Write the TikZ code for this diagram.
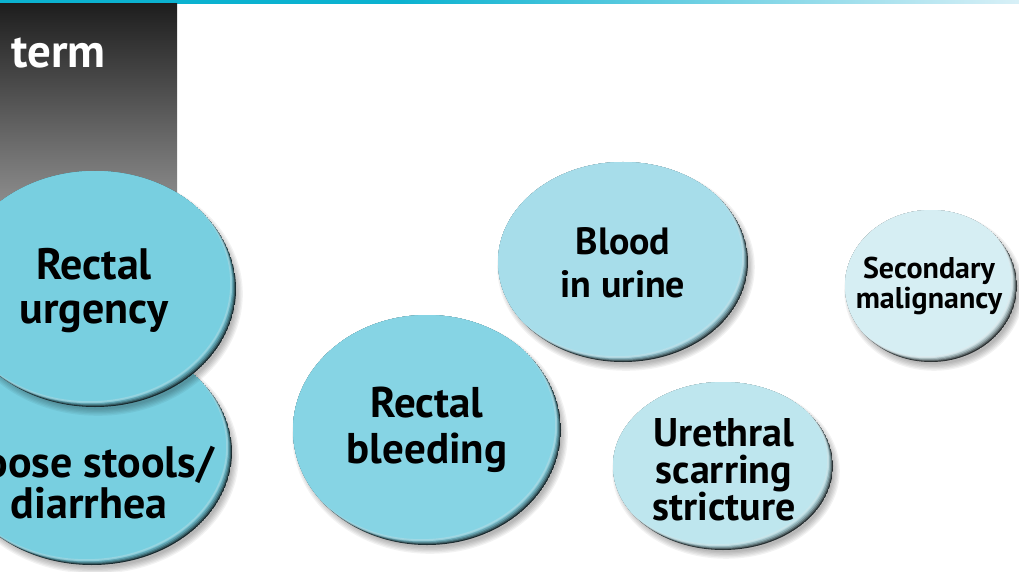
\documentclass[tikz,border=0pt]{standalone}
\usepackage{fontspec}
\setmainfont{PT Sans}
\definecolor{tealA}{HTML}{0BB2D0}
\definecolor{tealB}{HTML}{D8F0F7}
\definecolor{grayA}{HTML}{1E1E1E}
\definecolor{grayB}{HTML}{939393}
\definecolor{cUrg}{HTML}{78CFE0}
\definecolor{cBleed}{HTML}{86D4E4}
\definecolor{cUrine}{HTML}{A7DDEA}
\definecolor{cUreth}{HTML}{BEE6EE}
\definecolor{cSec}{HTML}{D6EEF3}
\newcommand\myblob[5]{%
  \foreach \s in {1,...,6}{%
    \fill[black,opacity=0.05] ({#1+3},{#2+5}) ellipse [x radius={#3-4+\s*1.3}, y radius={#4-4+\s*1.3}];
  }%
  \begin{scope}
    \clip (#1,#2) ellipse [x radius=#3, y radius=#4];
    \fill[#5!20!black] (#1,#2) ellipse [x radius=#3, y radius=#4];
    \fill[#5!42!black] ({#1-0.9},{#2-0.9}) ellipse [x radius=#3, y radius=#4];
    \fill[#5!62!black] ({#1-1.8},{#2-1.8}) ellipse [x radius=#3, y radius=#4];
    \fill[#5!78!black] ({#1-2.8},{#2-2.8}) ellipse [x radius=#3, y radius=#4];
    \fill[#5!90!black] ({#1-3.8},{#2-3.8}) ellipse [x radius=#3, y radius=#4];
    \fill[#5!96!black] ({#1-4.8},{#2-4.8}) ellipse [x radius=#3, y radius=#4];
    \fill[#5] ({#1-5.8},{#2-5.8}) ellipse [x radius=#3, y radius=#4];
    \draw[white,opacity=0.25,line width=2pt] ({#1-5.8},{#2-5.8}) ellipse [x radius={#3+1}, y radius={#4+1}];
  \end{scope}
}
\tikzset{lbl/.style={align=center, inner sep=0pt, text=black}}
\begin{document}
\begin{tikzpicture}[x=1pt,y=-1pt]
\useasboundingbox (0,0) rectangle (1019,572);
\clip (0,0) rectangle (1019,572);
\fill[white] (0,0) rectangle (1019,572);
% top bar
\fill[tealA] (0,0) rectangle (401,4);
\shade[left color=tealA, right color=tealB] (400,0) rectangle (1019,4);
% gray header box
\shade[top color=grayA, bottom color=grayB] (0,4) rectangle (177,215);
\node[anchor=base west, inner sep=0pt, text=white, font=\fontsize{47}{47}\selectfont\bfseries] (term) at (11,68) {term};
% ellipses
\myblob{92}{452}{140}{113}{cUrg}
\myblob{95}{289}{141}{118}{cUrg}
\myblob{427}{430}{134}{115}{cBleed}
\myblob{623}{262}{125}{100}{cUrine}
\myblob{723}{466}{110}{84}{cUreth}
\myblob{931}{286}{86}{76}{cSec}
% labels
\node[lbl, font=\fontsize{44}{41}\selectfont\bfseries] (diar) at (89,483) {Loose stools/\\diarrhea};
\node[lbl, font=\fontsize{44}{44}\selectfont\bfseries] (urg) at (94,291) {Rectal\\urgency};
\node[lbl, font=\fontsize{43}{46}\selectfont\bfseries] (bleed) at (427,430) {Rectal\\bleeding};
\node[lbl, font=\fontsize{38}{43}\selectfont\bfseries] (urine) at (623,263) {Blood\\in urine};
\node[lbl, font=\fontsize{40}{37}\selectfont\bfseries] (ureth) at (724,470) {Urethral\\scarring\\stricture};
\node[lbl, font=\fontsize{30}{30}\selectfont\bfseries] (sec) at (929,286) {Secondary\\malignancy};
\end{tikzpicture}
\end{document}
